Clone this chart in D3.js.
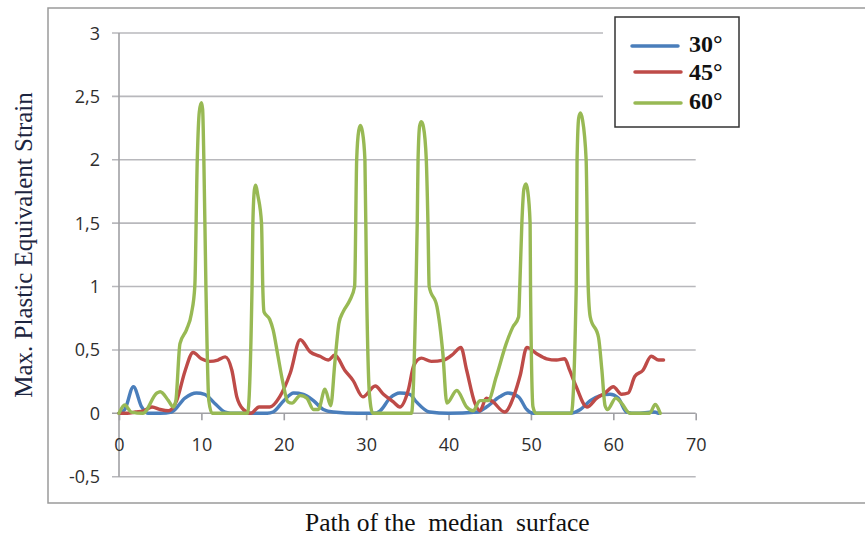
<!DOCTYPE html>
<html><head><meta charset="utf-8">
<script src="https://cdn.jsdelivr.net/npm/d3@7"></script>
<style>body{margin:0;background:#fff}svg{display:block}</style>
</head><body>
<svg id="c" width="865" height="539"></svg>
<script>
const seriesNames = ["30°", "45°", "60°"];
const seriesColors = ["#4a7ebb", "#be4b48", "#98b954"];
const yTicks = [-0.5, 0, 0.5, 1, 1.5, 2, 2.5, 3];
const yTickLabels = ["-0,5", "0", "0,5", "1", "1,5", "2", "2,5", "3"];
const xTicks = [0, 10, 20, 30, 40, 50, 60, 70];

const x30 = [0,0.7,1.75,2.75,3.5,5,6.4,8,9.4,10.4,11.6,12.9,14,18,18.7,20,21.2,22.4,23.6,24.8,26,29,31,31.7,32.9,34.1,35.3,36.1,37.7,40,43.5,44.6,46.2,47.2,48.5,49.5,50.3,54.7,56,57.2,58.4,59.6,60.6,61.6,62.8,64.9,65.5];
const y30 = [0,0.03,0.21,0.05,0,0,0.01,0.12,0.16,0.15,0.08,0.01,0,0,0.01,0.1,0.16,0.15,0.1,0.03,0.01,0,0,0.02,0.12,0.16,0.15,0.09,0.01,0,0.01,0.05,0.13,0.16,0.13,0.03,0,0,0.03,0.1,0.14,0.15,0.12,0.01,0,0.01,0];

const x45 = [0,1,2,3,4,5,6,7,8,9,10,11,12,12.9,13.7,14.3,15.1,16,17,18.3,19.5,20.8,22,23.2,24.4,25.4,26.2,27.4,28.4,29.6,31.1,32.1,33.3,34.1,35.1,35.8,36.7,37.9,39.4,40.6,41.5,42.2,43.2,43.8,44.6,45.4,46.8,48,48.7,49.5,50.7,51.9,53.1,54.1,54.7,55.5,56.8,58,59,60,61,61.8,62.6,63.6,64.6,65.5,66.1];
const y45 = [0,0,0.01,0.02,0.05,0.03,0.02,0.1,0.33,0.48,0.43,0.41,0.42,0.445,0.34,0.13,0.03,0,0.05,0.05,0.13,0.32,0.58,0.485,0.45,0.42,0.46,0.34,0.26,0.13,0.215,0.15,0.09,0.05,0.18,0.38,0.435,0.41,0.42,0.47,0.52,0.34,0.08,0.02,0.12,0.09,0.01,0.15,0.3,0.52,0.47,0.43,0.42,0.43,0.34,0.21,0.05,0.12,0.16,0.21,0.15,0.16,0.29,0.34,0.45,0.42,0.42];

const x60 = [0,0.7,1.5,2.9,4.6,5,6,6.6,6.9,7.4,8.2,8.8,9.2,9.5,9.75,10,10.15,10.3,10.55,10.9,11.3,15.6,16.15,16.25,16.45,16.6,16.85,17.3,17.45,17.6,18.3,18.7,19.3,19.9,20.5,21,22,22.8,23.6,24.2,25,25.7,26.2,26.7,27.2,28,28.6,28.85,29.1,29.3,29.55,29.85,30.05,30.4,30.8,35.5,36.05,36.2,36.3,36.5,36.7,36.95,37.3,37.5,37.65,38.6,39.3,39.8,41,42.2,43,43.8,44.8,45.8,47,47.8,48.5,48.65,48.9,49.15,49.4,49.6,49.9,49.95,50.25,50.6,54.9,55.5,55.6,55.8,56,56.25,56.7,56.95,57.2,58.2,58.6,59,59.3,60.3,61,62,64.4,65.1,65.7];
const y60 = [0,0.065,0.01,0,0.16,0.17,0.1,0.05,0.1,0.55,0.66,0.79,1,2,2.38,2.45,2.4,2,1,0.1,0,0,1,1.5,1.77,1.8,1.72,1.5,1,0.8,0.74,0.66,0.45,0.24,0.09,0.08,0.14,0.12,0.03,0.03,0.19,0.06,0.4,0.71,0.8,0.89,1,2,2.23,2.27,2.22,2,1,0.15,0,0,1,1.5,2,2.27,2.3,2.26,2,1.5,1,0.84,0.48,0.08,0.18,0.05,0.02,0.1,0.1,0.29,0.55,0.68,0.76,1,1.5,1.77,1.81,1.76,1.5,1,0.05,0,0,1,2,2.33,2.37,2.32,2,1,0.76,0.6,0.35,0.06,0.03,0.12,0.08,0,0,0.07,0];

const seriesX = [x30, x45, x60];
const seriesY = [y30, y45, y60];

const svg = d3.select("#c");
const x = d3.scaleLinear().domain([0, 70]).range([119, 695.7]);
const y = d3.scaleLinear().domain([-0.5, 3]).range([476.7, 33]);

// outer border
svg.append("rect").attr("x", 48).attr("y", 8).attr("width", 900).attr("height", 495)
  .attr("fill", "#fff").attr("stroke", "#9a9a9a").attr("stroke-width", 1.5);

// gridlines
svg.append("g").selectAll("line").data(yTicks.filter(d => d !== 0)).join("line")
  .attr("x1", 112).attr("x2", x(70)).attr("y1", d => y(d)).attr("y2", d => y(d))
  .attr("stroke", "#b8b8bc").attr("stroke-width", 1.6);

// y axis line
svg.append("line").attr("x1", x(0)).attr("x2", x(0)).attr("y1", y(3)).attr("y2", y(-0.5))
  .attr("stroke", "#a0a0a4").attr("stroke-width", 1.6);

// x axis at 0
const xAxis = d3.axisBottom(x).tickValues(xTicks).tickSize(7).tickFormat(d3.format("d"));
const gx = svg.append("g").attr("transform", `translate(0,${y(0)})`).call(xAxis);
gx.select(".domain").attr("stroke", "#a0a0a4").attr("stroke-width", 1.6).attr("d", `M${x(0)-7},0H${x(70)}`);
gx.selectAll(".tick line").attr("stroke", "#a0a0a4").attr("stroke-width", 1.6);
gx.selectAll(".tick text").attr("dy", 0).attr("y", 38)
  .attr("font-family", "'Open Sans', sans-serif").attr("font-size", 18).attr("fill", "#2e2e2e");

// y tick labels
svg.append("g").selectAll("text").data(yTicks).join("text")
  .attr("x", 100).attr("y", d => y(d) + 6.5).attr("text-anchor", "end")
  .attr("font-family", "'Open Sans', sans-serif").attr("font-size", 18).attr("fill", "#2e2e2e")
  .text((d, i) => yTickLabels[i]);

// lines
const line = d3.line().curve(d3.curveMonotoneX);
seriesX.forEach((xs, i) => {
  const pts = xs.map((v, j) => [x(v), y(seriesY[i][j])]);
  svg.append("path").attr("d", line(pts)).attr("fill", "none")
    .attr("stroke", seriesColors[i]).attr("stroke-width", 3.4)
    .attr("stroke-linejoin", "round").attr("stroke-linecap", "round");
});

// legend
svg.append("rect").attr("x", 603).attr("y", 12).attr("width", 150).attr("height", 122).attr("fill", "#fff");
svg.append("rect").attr("x", 615).attr("y", 17).attr("width", 124).attr("height", 110)
  .attr("fill", "#fff").attr("stroke", "#333").attr("stroke-width", 1.5);
const legY = [46, 72, 103];
const legTextY = [52, 80, 109];
const legX1 = [632, 635, 635];
seriesNames.forEach((n, i) => {
  svg.append("line").attr("x1", legX1[i]).attr("x2", legX1[i] + 46).attr("y1", legY[i]).attr("y2", legY[i])
    .attr("stroke", seriesColors[i]).attr("stroke-width", 3.5).attr("stroke-linecap", "round");
  svg.append("text").attr("x", 689).attr("y", legTextY[i]).attr("font-family", "'Liberation Serif', serif")
    .attr("font-weight", "bold").attr("font-size", 24).attr("fill", "#111").text(n);
});

// titles
svg.append("text").attr("transform", "translate(32,245) rotate(-90)").attr("text-anchor", "middle")
  .attr("font-family", "'Liberation Serif', serif").attr("font-size", 25).attr("fill", "#1c2540")
  .text("Max. Plastic Equivalent Strain");
svg.append("text").attr("x", 305).attr("y", 531).attr("xml:space", "preserve")
  .attr("font-family", "'Liberation Serif', serif").attr("font-size", 25.5).attr("fill", "#111")
  .text("Path of the  median  surface");
</script>
</body></html>
